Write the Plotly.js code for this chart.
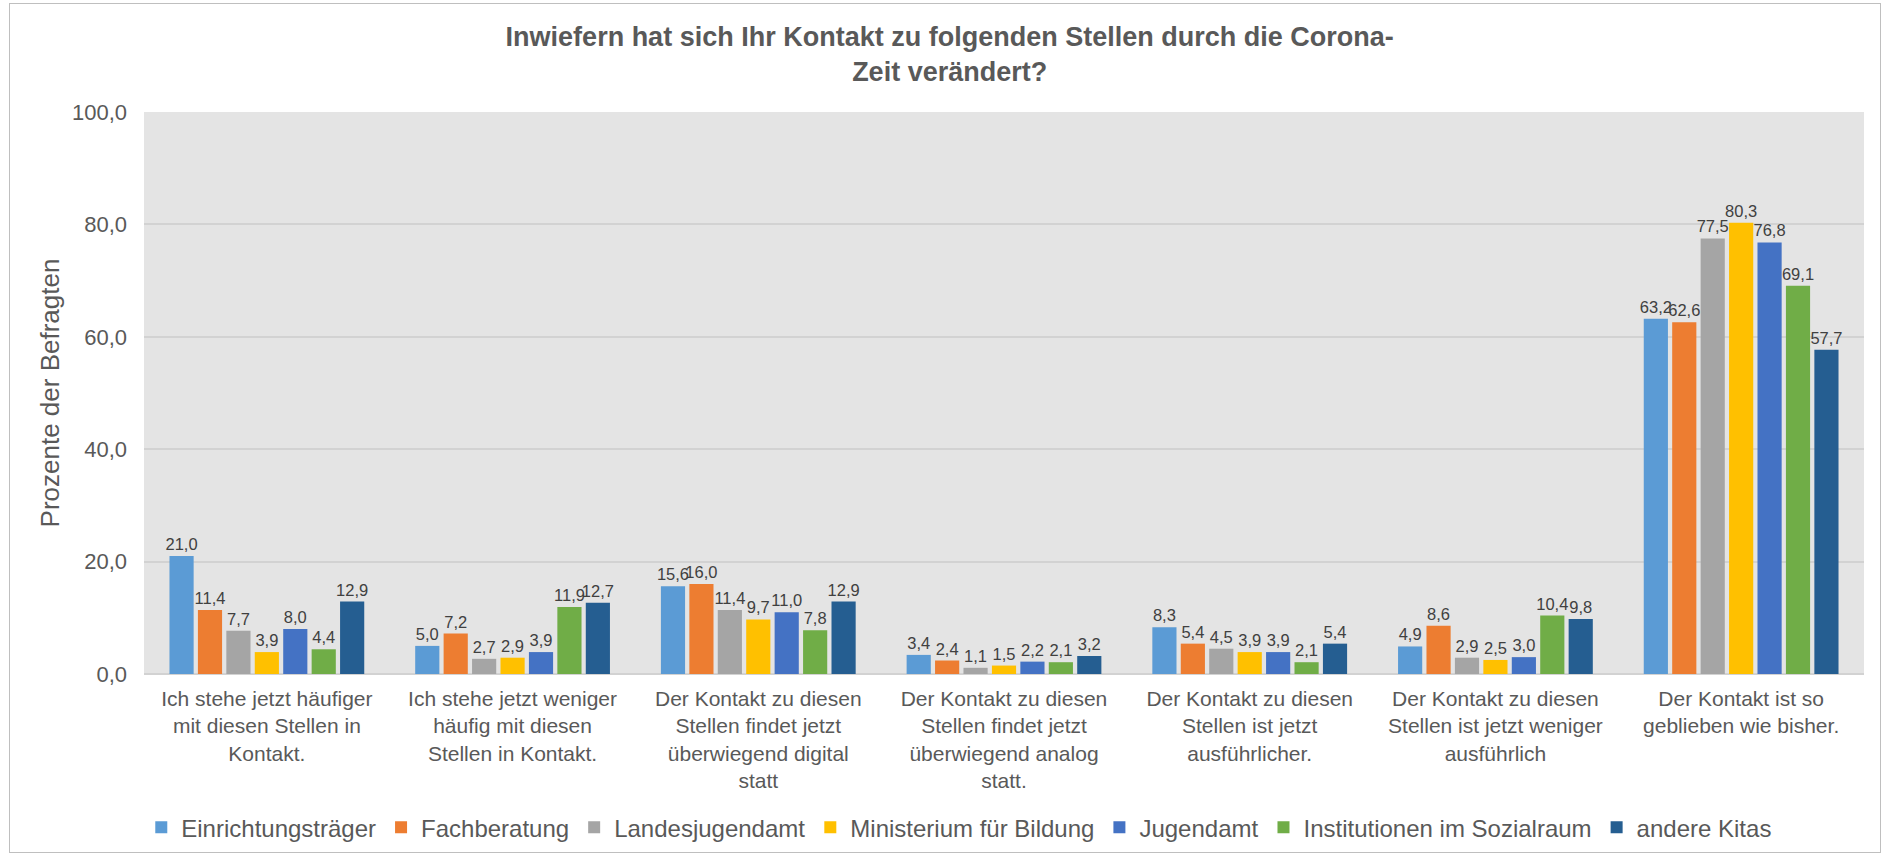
<!DOCTYPE html>
<html>
<head>
<meta charset="utf-8">
<script src="https://cdn.plot.ly/plotly-3.0.1.min.js"></script>
<style>
  body { margin: 0; background: #ffffff; }
  #wrap { position: relative; width: 1888px; height: 855px; }
  #chart { width: 1888px; height: 855px; }
  #frame { position: absolute; left: 9px; top: 3px; width: 1870px; height: 848px; border: 1px solid #BFBFBF; pointer-events: none; }
</style>
</head>
<body>
<div id="wrap"><div id="chart"></div><div id="frame"></div></div>
<script>
const categories = [
  "Ich stehe jetzt häufiger<br>mit diesen Stellen in<br>Kontakt.",
  "Ich stehe jetzt weniger<br>häufig mit diesen<br>Stellen in Kontakt.",
  "Der Kontakt zu diesen<br>Stellen findet jetzt<br>überwiegend digital<br>statt",
  "Der Kontakt zu diesen<br>Stellen findet jetzt<br>überwiegend analog<br>statt.",
  "Der Kontakt zu diesen<br>Stellen ist jetzt<br>ausführlicher.",
  "Der Kontakt zu diesen<br>Stellen ist jetzt weniger<br>ausführlich",
  "Der Kontakt ist so<br>geblieben wie bisher."
];
const seriesNames = ["Einrichtungsträger", "Fachberatung", "Landesjugendamt", "Ministerium für Bildung", "Jugendamt", "Institutionen im Sozialraum", "andere Kitas"];
const einrichtungstraeger = [21.0, 5.0, 15.6, 3.4, 8.3, 4.9, 63.2];
const fachberatung        = [11.4, 7.2, 16.0, 2.4, 5.4, 8.6, 62.6];
const landesjugendamt     = [7.7, 2.7, 11.4, 1.1, 4.5, 2.9, 77.5];
const ministerium         = [3.9, 2.9, 9.7, 1.5, 3.9, 2.5, 80.3];
const jugendamt           = [8.0, 3.9, 11.0, 2.2, 3.9, 3.0, 76.8];
const institutionen       = [4.4, 11.9, 7.8, 2.1, 2.1, 10.4, 69.1];
const andereKitas         = [12.9, 12.7, 12.9, 3.2, 5.4, 9.8, 57.7];
const seriesValues = [einrichtungstraeger, fachberatung, landesjugendamt, ministerium, jugendamt, institutionen, andereKitas];
const colors = ["#5B9BD5", "#ED7D31", "#A5A5A5", "#FFC000", "#4472C4", "#70AD47", "#255E91"];

const FONT = "Liberation Sans, Arial, sans-serif";
const traces = seriesNames.map((name, i) => ({
  type: "bar",
  name: name,
  x: categories,
  y: seriesValues[i],
  marker: { color: colors[i] },
  texttemplate: "%{y:.1f}",
  textposition: "outside",
  constraintext: "none",
  cliponaxis: false,
  textangle: 0,
  textfont: { family: FONT, size: 16.5, color: "#404040" },
  hoverinfo: "skip"
}));

const layout = {
  width: 1888, height: 855,
  paper_bgcolor: "#ffffff",
  plot_bgcolor: "#E4E4E4",
  separators: ",.",
  margin: { l: 144, r: 24, t: 112, b: 181, autoexpand: false },
  barmode: "group",
  bargap: 0.19,
  bargroupgap: 0.15,
  title: {
    text: "<b>Inwiefern hat sich Ihr Kontakt zu folgenden Stellen durch die Corona-</b><br><b>Zeit verändert?</b>",
    font: { family: FONT, size: 27, color: "#595959" },
    x: 0.503, xanchor: "center", y: 0.946, yanchor: "top"
  },
  xaxis: {
    tickfont: { family: FONT, size: 21, color: "#595959" },
    showgrid: false, showline: false, ticks: "",
    ticklabelstandoff: 10, automargin: false
  },
  yaxis: {
    range: [0, 100], dtick: 20, tickformat: ".1f",
    tickfont: { family: FONT, size: 22, color: "#595959" },
    gridcolor: "#D2D2D2", gridwidth: 2,
    zeroline: true, zerolinecolor: "#D2D2D2", zerolinewidth: 2,
    ticks: "", ticklabelstandoff: 16, automargin: false,
    title: { text: "Prozente der Befragten", font: { family: FONT, size: 26, color: "#595959" }, standoff: 4 }
  },
  legend: {
    orientation: "h", x: 0.474, xanchor: "center",
    yref: "container", y: 0.032, yanchor: "middle",
    font: { family: FONT, size: 24, color: "#595959" },
    itemsizing: "constant", traceorder: "normal", itemwidth: 30
  },
  showlegend: true
};

Plotly.newPlot("chart", traces, layout, { displayModeBar: false, staticPlot: true });
</script>
</body>
</html>
